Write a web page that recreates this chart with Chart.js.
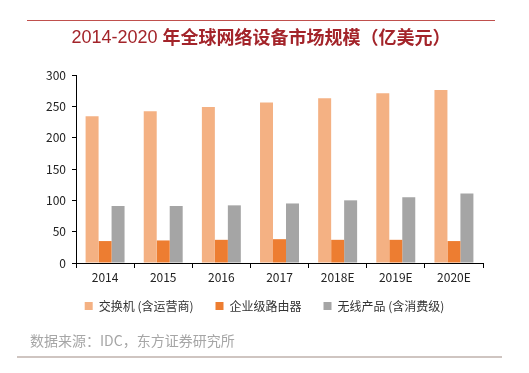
<!DOCTYPE html>
<html>
<head>
<meta charset="utf-8">
<script src="https://cdn.jsdelivr.net/npm/chart.js@4/dist/chart.umd.min.js"></script>
<style>
  html, body { margin: 0; padding: 0; background: #fff; }
  #wrap { width: 529px; height: 373px; position: relative; }
</style>
</head>
<body>
<div id="wrap"><canvas id="marketChart" width="529" height="373"></canvas></div>
<script>
const years = ['2014', '2015', '2016', '2017', '2018E', '2019E', '2020E'];
const switches = [234, 242, 249, 256, 263, 271, 276];
const routers = [35, 36, 37, 38, 37, 37, 35];
const wireless = [91, 91, 92, 95, 100, 105, 111];
const seriesNames = ['交换机 (含运营商)', '企业级路由器', '无线产品 (含消费级)'];
const titleYears = '2014-2020 ';
const titleText = '年全球网络设备市场规模（亿美元）';
const sourceText = '数据来源：IDC，东方证券研究所';

const fontFamily = "'Noto Sans CJK SC', 'Liberation Sans', sans-serif";

// title, red line on top, source text and grey line at the bottom
const decorations = {
    id: 'decorations',
    afterDraw(chart) {
        const ctx = chart.ctx;
        ctx.save();
        ctx.strokeStyle = '#C0504D';
        ctx.lineWidth = 1;
        ctx.beginPath();
        ctx.moveTo(27, 20.5);
        ctx.lineTo(495, 20.5);
        ctx.stroke();

        // title: years in normal weight, chinese part bold
        ctx.fillStyle = '#A3242A';
        ctx.textBaseline = 'middle';
        ctx.textAlign = 'left';
        const f1 = "normal 18px 'Liberation Sans', sans-serif";
        const f2 = 'bold 18px ' + fontFamily;
        ctx.font = f1;
        const w1 = ctx.measureText(titleYears).width;
        ctx.font = f2;
        const w2 = ctx.measureText(titleText).width;
        let x = 261 - (w1 + w2) / 2;
        ctx.font = f1;
        ctx.fillText(titleYears, x, 38);
        ctx.font = f2;
        ctx.fillText(titleText, x + w1, 37);

        ctx.fillStyle = '#A6A6A6';
        ctx.font = '14px ' + fontFamily;
        ctx.fillText(sourceText, 30, 341);

        ctx.strokeStyle = '#BFB2AC';
        ctx.lineWidth = 1.5;
        ctx.beginPath();
        ctx.moveTo(17, 357);
        ctx.lineTo(502, 357);
        ctx.stroke();
        ctx.restore();
    }
};

const config = {
    type: 'bar',
    data: {
        labels: years,
        datasets: [
            { label: seriesNames[0], data: switches, backgroundColor: '#F4B183' },
            { label: seriesNames[1], data: routers, backgroundColor: '#ED7D31' },
            { label: seriesNames[2], data: wireless, backgroundColor: '#A5A5A5' }
        ]
    },
    options: {
        responsive: false,
        animation: false,
        datasets: {
            bar: { categoryPercentage: 0.67, barPercentage: 1.0 }
        },
        layout: {
            padding: { left: 0, right: 0, top: 75, bottom: 51 }
        },
        plugins: {
            title: { display: false },
            legend: {
                display: true,
                position: 'bottom',
                labels: {
                    color: '#333',
                    font: { family: fontFamily, size: 12 },
                    boxWidth: 8,
                    boxHeight: 8,
                    padding: 10,
                    generateLabels(chart) {
                        const items = Chart.defaults.plugins.legend.labels.generateLabels(chart);
                        // wider gaps between legend entries
                        items.forEach((item, i) => {
                            if (i < items.length - 1) item.text = item.text + '\u3000';
                        });
                        return items;
                    }
                }
            },
            tooltip: { enabled: false }
        },
        scales: {
            x: {
                grid: {
                    display: true,
                    drawOnChartArea: false,
                    drawTicks: true,
                    tickLength: 5,
                    color: '#000'
                },
                border: { display: true, color: '#000', width: 1 },
                ticks: {
                    color: '#222',
                    font: { family: fontFamily, size: 12 },
                    padding: 2,
                    maxRotation: 0
                },
                afterFit(scale) {
                    scale.height = 27;
                }
            },
            y: {
                min: 0,
                max: 300,
                ticks: {
                    stepSize: 50,
                    color: '#222',
                    font: { family: fontFamily, size: 12 },
                    padding: 6
                },
                grid: {
                    display: true,
                    drawOnChartArea: false,
                    drawTicks: true,
                    tickLength: 4,
                    color: '#000'
                },
                border: { display: true, color: '#000', width: 1 },
                afterFit(scale) {
                    scale.width = 76;
                }
            },
            // empty right axis, only keeps room on the right side
            yRight: {
                position: 'right',
                min: 0,
                max: 300,
                ticks: { display: false },
                grid: { display: false },
                border: { display: false },
                afterFit(scale) {
                    scale.width = 46;
                }
            }
        }
    },
    plugins: [decorations]
};

const ctx = document.getElementById('marketChart').getContext('2d');
const marketChart = new Chart(ctx, config);
</script>
</body>
</html>
